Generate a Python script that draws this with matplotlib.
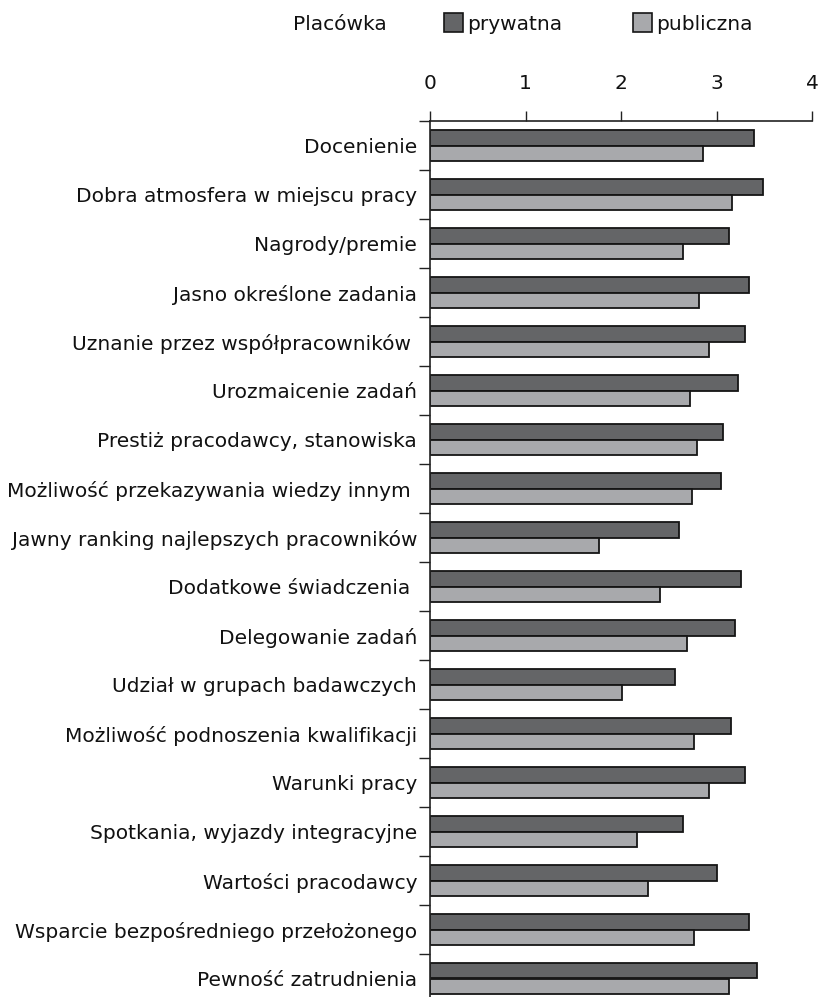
import matplotlib
matplotlib.use("Agg")
import matplotlib.pyplot as plt
import numpy as np
from matplotlib.patches import Rectangle

categories = [
    "Docenienie",
    "Dobra atmosfera w miejscu pracy",
    "Nagrody/premie",
    "Jasno określone zadania",
    "Uznanie przez współpracowników ",
    "Urozmaicenie zadań",
    "Prestiż pracodawcy, stanowiska",
    "Możliwość przekazywania wiedzy innym ",
    "Jawny ranking najlepszych pracowników",
    "Dodatkowe świadczenia ",
    "Delegowanie zadań",
    "Udział w grupach badawczych",
    "Możliwość podnoszenia kwalifikacji",
    "Warunki pracy",
    "Spotkania, wyjazdy integracyjne",
    "Wartości pracodawcy",
    "Wsparcie bezpośredniego przełożonego",
    "Pewność zatrudnienia",
]
prywatna = [3.39, 3.49, 3.13, 3.34, 3.30, 3.22, 3.07, 3.05, 2.61, 3.26,
            3.19, 2.57, 3.15, 3.30, 2.65, 3.01, 3.34, 3.42]
publiczna = [2.86, 3.16, 2.65, 2.82, 2.92, 2.72, 2.80, 2.74, 1.77, 2.41,
             2.69, 2.01, 2.76, 2.92, 2.17, 2.28, 2.76, 3.13]
xticks = [0, 1, 2, 3, 4]
legend_title = "Placówka"
series_names = ["prywatna", "publiczna"]

c_dark = "#646567"
c_light = "#a8a9ac"
edge = "#151515"
fs = 14.5
plt.rcParams["font.family"] = ["DejaVu Sans"]

W, H = 818, 997
PT = 0.72  # points per pixel at dpi 100
fig = plt.figure(figsize=(W / 100, H / 100), dpi=100)
left, right = 430 / W, 812 / W
top_px, bot_px = 121, 1003
ax = fig.add_axes([left, 1 - bot_px / H, right - left, (bot_px - top_px) / H])

n = len(categories)
y = np.arange(n)
bh = 0.325
ax.barh(y - bh / 2, prywatna, height=bh, color=c_dark, edgecolor=edge, linewidth=1.3)
ax.barh(y + bh / 2, publiczna, height=bh, color=c_light, edgecolor=edge, linewidth=1.3)

ax.set_xlim(0, 4)
ax.set_ylim(n - 0.5, -0.5)
ax.xaxis.tick_top()
ax.set_xticks(xticks)
ax.set_xticklabels([str(t) for t in xticks])
ax.tick_params(axis="x", direction="out", length=10 * PT, width=1.0, pad=18 * PT,
               labelsize=fs, colors="#222222", labelcolor="#111111")

ax.set_yticks(np.arange(-0.5, n, 1.0))
ax.set_yticklabels([])
ax.tick_params(axis="y", which="major", direction="out", length=11 * PT, width=1.0, colors="#222222")
ax.set_yticks(y, minor=True)
ax.set_yticklabels(categories, minor=True)
ax.tick_params(axis="y", which="minor", length=0, pad=13 * PT, labelsize=fs, labelcolor="#111111")

for s in ["right", "bottom"]:
    ax.spines[s].set_visible(False)
for s in ["top", "left"]:
    ax.spines[s].set_color("#222222")
    ax.spines[s].set_linewidth(1.2)

# legend row
ly = 1 - 22 / H
fig.text(293 / W, ly, legend_title, fontsize=fs, va="center_baseline", ha="left", color="#111111")
for x0, col, name in [(444, c_dark, series_names[0]), (633, c_light, series_names[1])]:
    fig.patches.append(Rectangle((x0 / W, 1 - 32 / H), 19 / W, 19 / H, transform=fig.transFigure,
                                 facecolor=col, edgecolor=edge, linewidth=1.2))
    fig.text((x0 + 23) / W, ly, name, fontsize=fs, va="center_baseline", ha="left", color="#111111")

fig.savefig("out.png", dpi=100)
